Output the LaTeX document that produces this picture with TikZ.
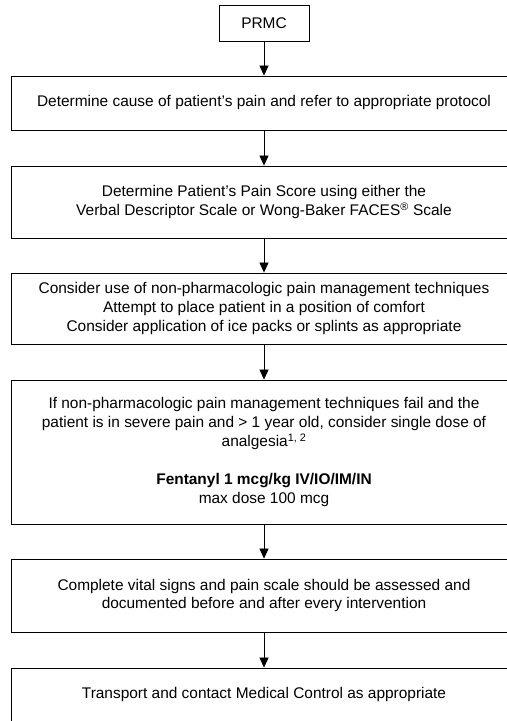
\documentclass[tikz,border=0pt]{standalone}
\usepackage{fontspec}
\setmainfont{Liberation Sans}
\usetikzlibrary{arrows.meta}
\begin{document}
\begin{tikzpicture}[x=1bp,y=1bp,
  font=\fontsize{15.5}{19}\selectfont,
  stepbox/.style={draw,rectangle,line width=0.8bp,inner sep=0pt,align=center,minimum width=506bp},
  flow/.style={-{Triangle[length=10bp,width=9bp]},line width=0.8bp}]
		%%
  \useasboundingbox (0,0) rectangle (507,721);
  \clip (0,0) rectangle (507,721);
  \node (PRMC) at (264bp,698bp) [draw,rectangle,line width=0.8bp,inner sep=0pt,minimum width=90bp,minimum height=36bp] {PRMC};
  \node (Cause) at (264bp,618bp) [stepbox,minimum height=54bp] {Determine cause of patient's pain and refer to appropriate protocol};
  \node (Score) at (264bp,519bp) [stepbox,minimum height=72bp] {Determine Patient’s Pain Score using either the\\Verbal Descriptor Scale or Wong-Baker FACES\textsuperscript{\textregistered} Scale};
  \node (Comfort) at (264bp,412.5bp) [stepbox,minimum height=71bp] {Consider use of non-pharmacologic pain management techniques\\Attempt to place patient in a position of comfort\\Consider application of ice packs or splints as appropriate};
  \node (Fentanyl) at (264bp,269bp) [stepbox,minimum height=144bp] {If non-pharmacologic pain management techniques fail and the\\patient is in severe pain and > 1 year old, consider single dose of\\analgesia\textsuperscript{1, 2}\\[19bp]\textbf{Fentanyl 1 mcg/kg IV/IO/IM/IN}\\max dose 100 mcg};
  \node (Vitals) at (264bp,125.5bp) [stepbox,minimum height=73bp] {Complete vital signs and pain scale should be assessed and\\documented before and after every intervention};
  \node (Transport) at (264bp,26bp) [stepbox,minimum height=54bp] {Transport and contact Medical Control as appropriate};
  \draw [flow] (PRMC) -- (Cause);
  \draw [flow] (Cause) -- (Score);
  \draw [flow] (Score) -- (Comfort);
  \draw [flow] (Comfort) -- (Fentanyl);
  \draw [flow] (Fentanyl) -- (Vitals);
  \draw [flow] (Vitals) -- (Transport);
		%
\end{tikzpicture}
\end{document}
